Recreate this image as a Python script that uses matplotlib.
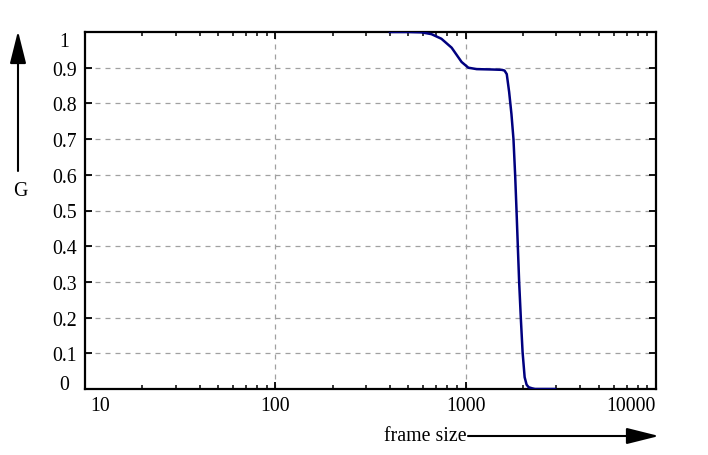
import matplotlib
matplotlib.use("Agg")
import matplotlib.pyplot as plt
import matplotlib.transforms as mtrans
from matplotlib.ticker import LogLocator, NullFormatter

plt.rcParams["font.family"] = ["Liberation Serif", "DejaVu Serif"]

# curve
frame_size = [400, 500, 586, 661, 746, 844, 952, 1033, 1143, 1371, 1549, 1600,
              1644, 1692, 1740, 1783, 1820, 1850, 1879, 1910, 1950, 1991, 2041,
              2090, 2143, 2230, 2313, 2600, 2950]
G = [1.0, 1.0, 0.999, 0.994, 0.981, 0.956, 0.916, 0.900, 0.896, 0.895, 0.894,
     0.892, 0.882, 0.832, 0.77, 0.700, 0.598, 0.5, 0.401, 0.299, 0.196, 0.103,
     0.033, 0.012, 0.005, 0.002, 0.0, 0.0, 0.0]

xticks = [10, 100, 1000, 10000]
xticklabels = ["10", "100", "1000", "10000"]
yticks = [0, 0.1, 0.2, 0.3, 0.4, 0.5, 0.6, 0.7, 0.8, 0.9, 1]
yticklabels = ["0", "0.1", "0.2", "0.3", "0.4", "0.5", "0.6", "0.7", "0.8", "0.9", "1"]

W, H = 708, 456
fs = 14.3
fig = plt.figure(figsize=(W / 100, H / 100), dpi=100)
ax = fig.add_axes([85 / W, 1 - 390 / H, (656 - 85) / W, (390 - 33) / H])

ax.plot(frame_size, G, color="#00007f", lw=1.8, zorder=3)

ax.set_xscale("log")
ax.set_xlim(10, 10000)
ax.set_ylim(0, 1)

ax.set_xticks(xticks)
ax.set_xticklabels(xticklabels)
ax.xaxis.set_minor_locator(LogLocator(base=10, subs=range(2, 10)))
ax.xaxis.set_minor_formatter(NullFormatter())
ax.set_yticks(yticks)
ax.set_yticklabels(yticklabels)

ax.tick_params(axis="both", which="major", direction="in", length=5, width=1.3,
               top=True, right=True, labelsize=fs)
ax.tick_params(axis="x", which="minor", direction="in", length=3, width=1.1,
               top=True)
ax.tick_params(axis="x", which="major", pad=5)
ax.tick_params(axis="y", which="major", pad=15)

for lab in ax.get_yticklabels():
    lab.set_horizontalalignment("center")
ylabs = ax.get_yticklabels()
ylabs[0].set_verticalalignment("baseline")
ylabs[-1].set_verticalalignment("top")
xlabs = ax.get_xticklabels()
xlabs[0].set_horizontalalignment("left")
xlabs[0].set_transform(xlabs[0].get_transform() +
                       mtrans.ScaledTranslation(5 / 100, 0, fig.dpi_scale_trans))
xlabs[-1].set_horizontalalignment("right")

# grid only on inner major ticks
for xv in xticks[1:-1]:
    ax.axvline(xv, color="#a0a0a0", lw=0.9, ls=(0, (4, 4)), zorder=1)
for yv in yticks[1:-1]:
    ax.axhline(yv, color="#a0a0a0", lw=0.9, ls=(0, (4, 4)), zorder=1)

for sp in ax.spines.values():
    sp.set_linewidth(1.6)

# axis arrows in figure pixels
arrow = dict(arrowstyle="-|>,head_length=2.0,head_width=0.5", mutation_scale=10,
             color="black", lw=1.5, shrinkA=0, shrinkB=0)
ax.annotate("", xy=(18, H - 32), xytext=(18, H - 172),
            xycoords="figure pixels", textcoords="figure pixels",
            arrowprops=arrow)
fig.text(20 / W, 1 - 191 / H, "G", ha="center", va="center", fontsize=fs)

ax.annotate("", xy=(659, H - 437), xytext=(468, H - 437),
            xycoords="figure pixels", textcoords="figure pixels",
            arrowprops=arrow)
fig.text(467 / W, 1 - 437 / H, "frame size", ha="right", va="center", fontsize=fs)

fig.savefig("out.png", dpi=100)
